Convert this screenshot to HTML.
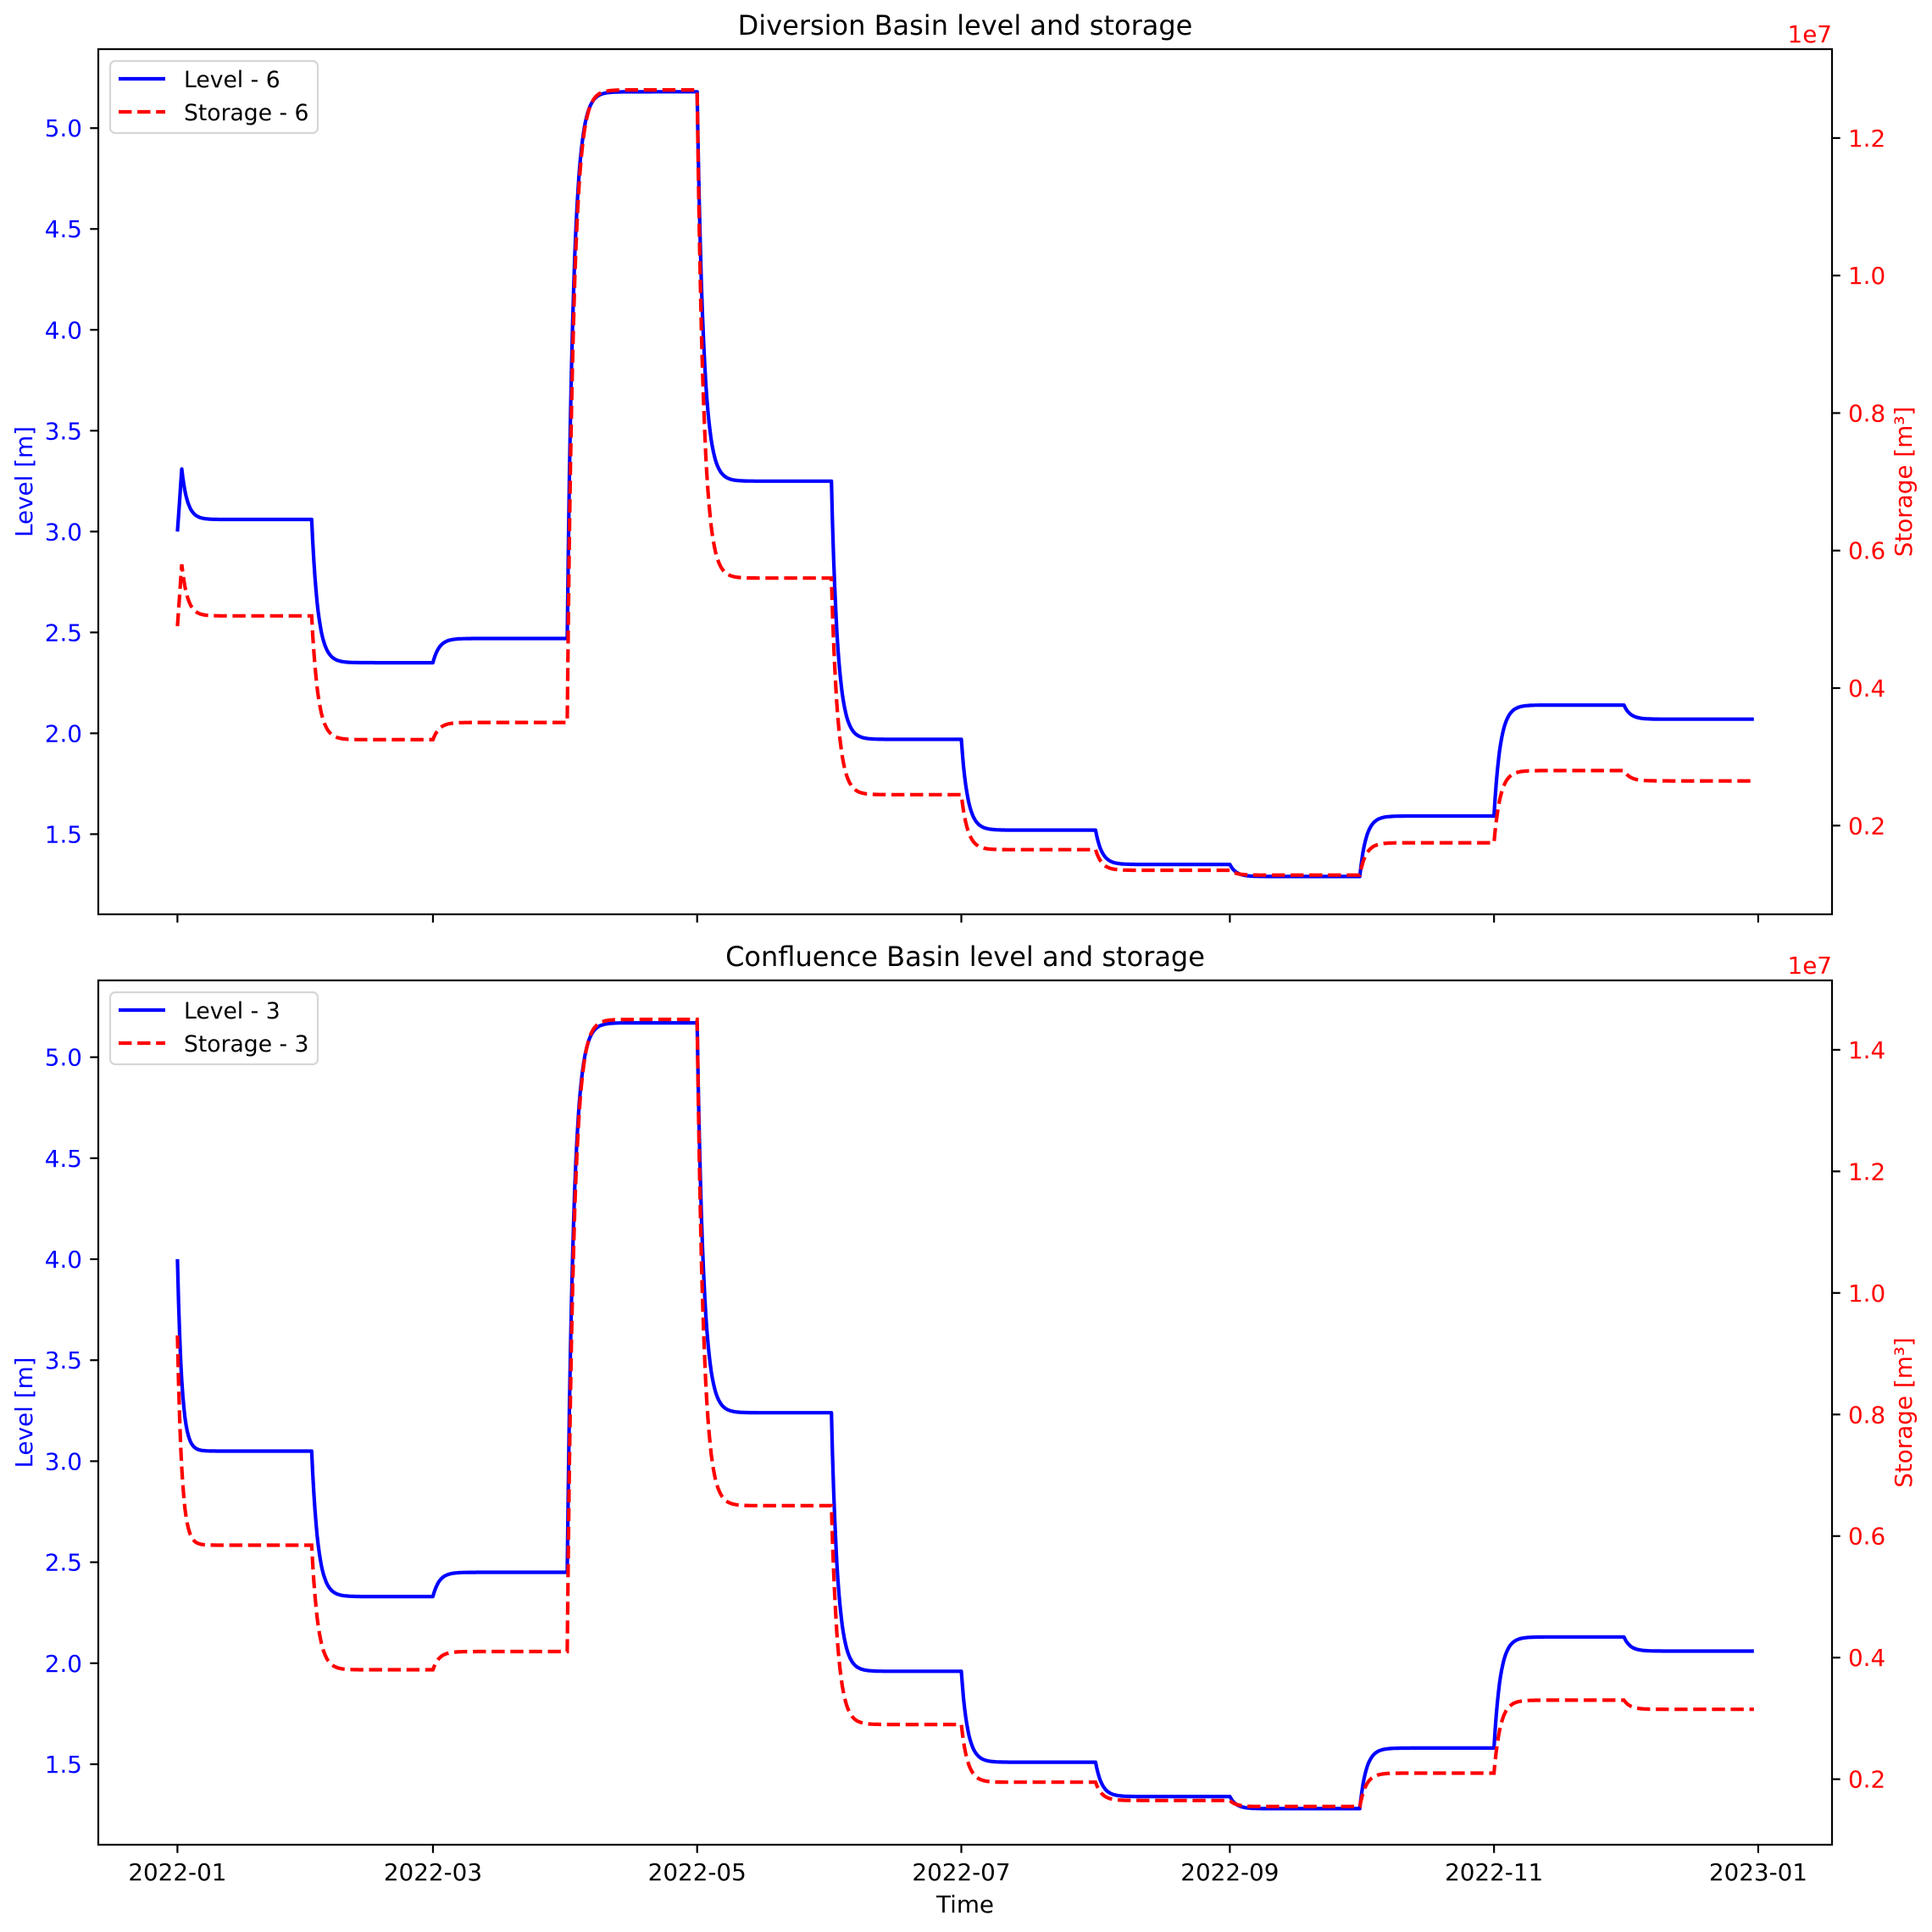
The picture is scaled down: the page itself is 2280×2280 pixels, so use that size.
<!DOCTYPE html>
<html><head><meta charset="utf-8"><style>
html,body{margin:0;padding:0;background:#fff;}
svg{display:block;}
text{font-family:"DejaVu Sans","Liberation Sans",sans-serif;}
</style></head><body>
<svg id="s" width="2280" height="2280" viewBox="0 0 2280 2280" xmlns="http://www.w3.org/2000/svg">
<rect width="2280" height="2280" fill="#fff"/>
<defs>
<clipPath id="c1"><rect x="116" y="58" width="2046" height="1021"/></clipPath>
<clipPath id="c2"><rect x="116" y="1157" width="2046" height="1020"/></clipPath>
</defs>
<g id="g"></g>
</svg>
<script>
(function(){
var NS="http://www.w3.org/2000/svg",g=document.getElementById('g');
function el(t,a,txt){var e=document.createElementNS(NS,t);for(var k in a)e.setAttribute(k,a[k]);if(txt!=null)e.textContent=txt;g.appendChild(e);return e;}
var X0=209.4,DX=5.111;
function xd(d){return X0+d*DX;}
var starts=[31,59,90,120,151,181,212,243,273,304,334];
function series(v0,peak,firstT,targets,tau1){
  var pts=[];var dt=0.25,tau=1.45;
  for(var t=0;t<=364;t+=dt){
    var v;
    if(t<starts[0]){
      if(peak!=null){ if(t<=1)v=v0+(peak-v0)*t; else v=firstT+(peak-firstT)*Math.exp(-(t-1)/tau1);}
      else v=firstT+(v0-firstT)*Math.exp(-t/tau1);
    } else {
      var k=0;while(k+1<starts.length&&t>=starts[k+1])k++;
      var prev=(k==0)?firstT:targets[k-1];
      v=targets[k]+(prev-targets[k])*Math.exp(-(t-starts[k])/tau);
    }
    pts.push([t,v]);
  }
  return pts;
}
function path(pts,fy){return pts.map(function(p,i){return (i?'L':'M')+xd(p[0]).toFixed(1)+' '+fy(p[1]).toFixed(1);}).join('');}
function panel(o){
  var top=o.top,bot=o.bot;
  var yl=function(L){return o.l5+(5-L)*o.lu;};
  var yr=function(S){return o.r0+(o.rv0-S)*o.ru;};
  var lv=series(o.lv0,o.lpk,o.lf,o.lt,o.tau);
  var sv=series(o.sv0,o.spk,o.sf,o.st,o.tau);
  el('path',{d:path(lv,yl),fill:'none',stroke:'#0000ff','stroke-width':4.2,'clip-path':o.clip,'stroke-linejoin':'round'});
  el('path',{d:path(sv,yr),fill:'none',stroke:'#ff0000','stroke-width':4.2,'stroke-dasharray':'15.4 6.7','clip-path':o.clip});
  el('rect',{x:116,y:top,width:2046,height:bot-top,fill:'none',stroke:'#000','stroke-width':2.2});
  for(var L=1.5;L<=5.001;L+=0.5){var y=yl(L);el('line',{x1:106.3,x2:116,y1:y,y2:y,stroke:'#000','stroke-width':2.2});
    el('text',{x:97,y:y+10,'text-anchor':'end','font-size':27.8,fill:'#0000ff'},L.toFixed(1));}
  for(var i=0;i<o.rt.length;i++){var S=o.rt[i],y2=yr(S);el('line',{x1:2162,x2:2171.7,y1:y2,y2:y2,stroke:'#000','stroke-width':2.2});
    el('text',{x:2181,y:y2+10,'font-size':27.8,fill:'#ff0000'},S.toFixed(1));}
  var md=[0,59,120,181,243,304,365],ml=['2022-01','2022-03','2022-05','2022-07','2022-09','2022-11','2023-01'];
  for(var j=0;j<md.length;j++){var x=xd(md[j]);el('line',{x1:x,x2:x,y1:bot,y2:bot+9.7,stroke:'#000','stroke-width':2.2});
    if(o.xl)el('text',{x:x,y:bot+42,'text-anchor':'middle','font-size':27.8,fill:'#000'},ml[j]);}
  el('text',{x:1139,y:top-17,'text-anchor':'middle','font-size':32,fill:'#000'},o.title);
  el('text',{x:2162,y:top-8,'text-anchor':'end','font-size':27.8,fill:'#ff0000'},'1e7');
  var my=(top+bot)/2;
  el('text',{x:0,y:0,transform:'translate(38,'+my+') rotate(-90)','text-anchor':'middle','font-size':27.8,fill:'#0000ff'},'Level [m]');
  el('text',{x:0,y:0,transform:'translate(2256,'+my+') rotate(-90)','text-anchor':'middle','font-size':27.8,fill:'#ff0000'},'Storage [m³]');
  var ly=top+14;
  el('rect',{x:130,y:ly,width:245,height:85,rx:6,fill:'#fff','fill-opacity':0.8,stroke:'#d6d6d6','stroke-width':2.2});
  el('line',{x1:140,x2:195,y1:ly+21,y2:ly+21,stroke:'#0000ff','stroke-width':4.2});
  el('line',{x1:140,x2:195,y1:ly+60,y2:ly+60,stroke:'#ff0000','stroke-width':4.2,'stroke-dasharray':'15.4 6.7'});
  el('text',{x:217,y:ly+31,'font-size':26.6,fill:'#000'},o.l1);
  el('text',{x:217,y:ly+70,'font-size':26.6,fill:'#000'},o.l2);
  if(o.xl)el('text',{x:1139,y:2257,'text-anchor':'middle','font-size':27.8,fill:'#000'},'Time');
}
panel({top:58,bot:1079,clip:'url(#c1)',l5:151.2,lu:238.06,r0:162.9,rv0:1.2,ru:811.4,rt:[0.2,0.4,0.6,0.8,1.0,1.2],
  lv0:3.0,lpk:3.31,lf:3.06,lt:[2.35,2.47,5.18,3.25,1.97,1.52,1.35,1.29,1.59,2.14,2.07],
  sv0:0.49,spk:0.58,sf:0.505,st:[0.325,0.35,1.27,0.56,0.245,0.165,0.135,0.128,0.175,0.28,0.265],tau:1.3,
  title:'Diversion Basin level and storage',l1:'Level - 6',l2:'Storage - 6',xl:false});
panel({top:1157,bot:2177,clip:'url(#c2)',l5:1247.6,lu:238.4,r0:1238.9,rv0:1.4,ru:717.3,rt:[0.2,0.4,0.6,0.8,1.0,1.2,1.4],
  lv0:4.0,lpk:null,lf:3.05,lt:[2.33,2.45,5.17,3.24,1.96,1.51,1.34,1.28,1.58,2.13,2.06],
  sv0:0.93,spk:null,sf:0.585,st:[0.38,0.41,1.45,0.65,0.29,0.195,0.165,0.155,0.21,0.33,0.315],tau:1.0,
  title:'Confluence Basin level and storage',l1:'Level - 3',l2:'Storage - 3',xl:true});
})();
</script>
</body></html>
